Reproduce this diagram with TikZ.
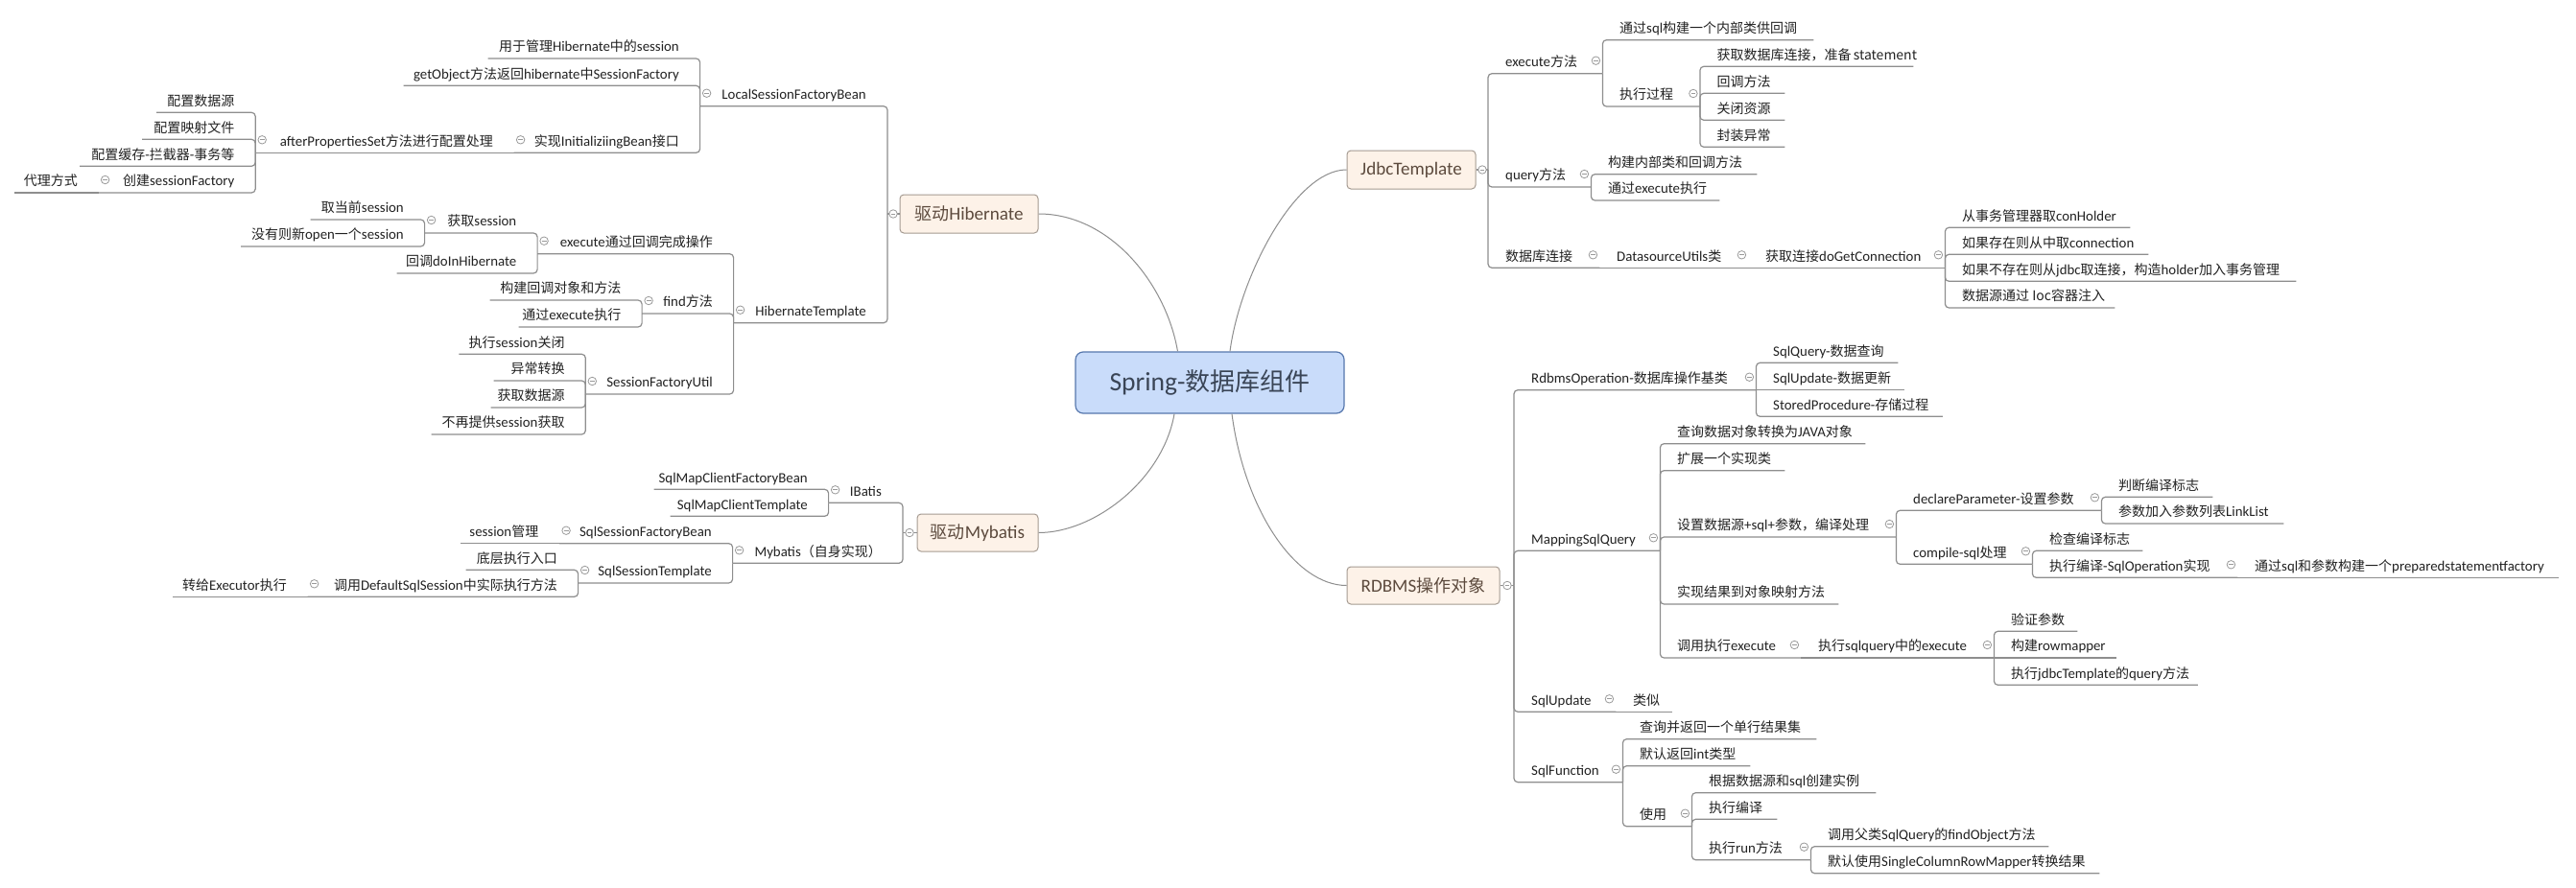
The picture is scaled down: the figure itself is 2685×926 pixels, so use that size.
\documentclass[tikz,border=0pt]{standalone}
\usepackage{fontspec}
\setmainfont{Carlito}[Scale=1.06]
\newfontfamily\cjkfont{Noto Sans CJK SC}
\usepackage{xcolor}
\usepackage{tikz}

% Latin runs in Carlito, CJK runs in Noto Sans CJK SC
\XeTeXinterchartokenstate=1
\newXeTeXintercharclass\cjkcls
\newcount\cjkc
\cjkc="2E80 \loop \XeTeXcharclass\cjkc=\cjkcls \advance\cjkc by 1 \ifnum\cjkc<"A000 \repeat
\cjkc="FF00 \loop \XeTeXcharclass\cjkc=\cjkcls \advance\cjkc by 1 \ifnum\cjkc<"FFF0 \repeat
\XeTeXinterchartoks 0 \cjkcls = {\cjkfont}
\XeTeXinterchartoks 4095 \cjkcls = {\cjkfont}
\XeTeXinterchartoks \cjkcls 0 = {\rmfamily}

\definecolor{lncol}{HTML}{8E8E8E}
\definecolor{txtcol}{HTML}{222222}
\definecolor{foldcol}{HTML}{9A9A9A}
\definecolor{boxfill}{HTML}{FDF2E8}
\definecolor{boxline}{HTML}{A59B92}
\definecolor{maintxt}{HTML}{5C4A3D}
\definecolor{rootfill}{HTML}{C9DCFA}
\definecolor{rootline}{HTML}{5677AD}
\definecolor{roottxt}{HTML}{3A4556}

\newcommand\lblfont{\fontsize{14}{16}\selectfont}
\newcommand\topfont{\fontsize{18}{20}\selectfont}
\newcommand\rootfont{\fontsize{26}{28}\selectfont}

\tikzstyle{ln}=[draw=lncol, line width=1.2pt]
\tikzstyle{rc}=[rounded corners=4pt]
\tikzstyle{crv}=[draw=lncol, line width=1pt]
\tikzstyle{tp}=[inner sep=0pt, text height=12pt, text depth=7pt, font=\lblfont, text=txtcol]
\tikzstyle{fold}=[circle, draw=foldcol, fill=white, line width=0.8pt, minimum size=8.5pt, inner sep=0pt,
  path picture={\draw[foldcol, line width=0.8pt] ([xshift=-2.4pt]path picture bounding box.center) -- ([xshift=2.4pt]path picture bounding box.center);}]
\tikzstyle{topic}=[draw=boxline, fill=boxfill, rounded corners=4pt, line width=1pt, font=\topfont, text=maintxt, inner sep=0pt]
\tikzset{rt/.style={tp, anchor=south west, execute at begin node={\hbox to #1pt\bgroup\hskip18pt\relax}, execute at end node={\hfil\egroup}}}
\tikzset{lt/.style={tp, anchor=south east, execute at begin node={\hbox to #1pt\bgroup\hfil}, execute at end node={\hskip22pt\egroup}}}

\begin{document}
\begin{tikzpicture}[x=1pt, y=-1pt]

    \useasboundingbox (0,0) rectangle (2685,926);
    \fill[white] (0,0) rectangle (2685,926);

%centre and main topics
    \node[draw=rootline, fill=rootfill, rounded corners=8pt, line width=1.2pt, minimum width=280pt, minimum height=64pt, font=\rootfont, text=roottxt] (root) at (1261,399) {Spring-数据库组件};
    \node[topic, minimum width=144pt, minimum height=40pt] (hib) at (1010,223) {驱动Hibernate};
    \node[topic, minimum width=126pt, minimum height=39pt] (myb) at (1019,555.5) {驱动Mybatis};
    \node[topic, minimum width=134pt, minimum height=40pt] (jdbc) at (1471,177) {JdbcTemplate};
    \node[topic, minimum width=159pt, minimum height=39pt] (rdbms) at (1483.5,610.5) {RDBMS操作对象};

    \draw[crv] (hib.east) .. controls +(75,0) and +(-12,-70) .. ([xshift=-33.5pt]root.north);
    \draw[crv] ([xshift=21pt]root.north) .. controls +(10,-77) and +(-54,0) .. (jdbc.west);
    \draw[crv] ([xshift=-37pt]root.south) .. controls +(-12,69) and +(58,0) .. (myb.east);
    \draw[crv] ([xshift=23pt]root.south) .. controls +(13,99) and +(-54,0) .. (rdbms.west);

%right side: JdbcTemplate
    \foreach \nm/\bx/\ex/\u/\txt in {
        jexec/1551/1670/76.7/execute方法,
        jsql/1670/1890/41.7/通过sql构建一个内部类供回调,
        jrun/1670/1771.5/111/执行过程,
        jconn/1771.5/1994/69.3/获取数据库连接，准备 statement,
        jcb/1771.5/1860/97.3/回调方法,
        jclose/1771.5/1860/125.3/关闭资源,
        jexc/1771.5/1860/153.3/封装异常,
        jquery/1551/1658/195/query方法,
        jinner/1658/1831/181.7/构建内部类和回调方法,
        jbyexec/1658/1792/209/通过execute执行,
        jdb/1551/1667/279.3/数据库连接,
        jdsu/1667/1822/279.3/DatasourceUtils类,
        jget/1822/2027/279.3/获取连接doGetConnection,
        jhold/2027/2220/237.3/从事务管理器取conHolder,
        jexist/2027/2239/265.3/如果存在则从中取connection,
        jnew/2027/2393/293.3/如果不存在则从jdbc取连接，构造holder加入事务管理,
        jioc/2027/2204/321/数据源通过 Ioc容器注入}
        {\pgfmathsetmacro\tpw{\ex-\bx}\node[rt=\tpw] (\nm) at (\bx,\u) {\txt};}

%right side: RDBMS
    \foreach \nm/\bx/\ex/\u/\txt in {
        rop/1578/1830/406.7/RdbmsOperation-数据库操作基类,
        rq/1830/1978/378.3/SqlQuery-数据查询,
        ru/1830/1985/406.7/SqlUpdate-数据更新,
        rsp/1830/2024.5/434.3/StoredProcedure-存储过程,
        rmap/1578/1730/574.3/MappingSqlQuery,
        rjava/1730/1944/462.7/查询数据对象转换为JAVA对象,
        rext/1730/1860/490.7/扩展一个实现类,
        rset/1730/1976/560/设置数据源+sql+参数，编译处理,
        rdecl/1976/2190/532.3/declareParameter-设置参数,
        rflag/2190/2306/518.3/判断编译标志,
        rlist/2190/2380/546/参数加入参数列表LinkList,
        rcomp/1976/2118/588.3/compile-sql处理,
        rchk/2118/2233/574.3/检查编译标志,
        rdo/2118/2332/602.3/执行编译-SqlOperation实现,
        rpsf/2332/2667/602.3/通过sql和参数构建一个preparedstatementfactory,
        rres/1730/1916/630/实现结果到对象映射方法,
        rcall/1730/1877/686/调用执行execute,
        rsqe/1877/2078/686/执行sqlquery中的execute,
        rval/2078/2165/658.3/验证参数,
        rrow/2078/2206/686/构建rowmapper,
        rjq/2078/2290.5/714.3/执行jdbcTemplate的query方法,
        rupd/1578/1684/742.3/SqlUpdate,
        rsim/1684/1743/742.3/类似,
        rfun/1578/1691/815.7/SqlFunction,
        rone/1691/1893/770.7/查询并返回一个单行结果集,
        rint/1691/1824/798.7/默认返回int类型,
        ruse/1691/1763/861.7/使用,
        rinst/1763/1955/826.7/根据数据源和sql创建实例,
        rcmp/1763/1852/854.3/执行编译,
        rrun/1763/1887/896.7/执行run方法,
        rfind/1887/2135/882.7/调用父类SqlQuery的findObject方法,
        rscr/1887/2188/910.7/默认使用SingleColumnRowMapper转换结果}
        {\pgfmathsetmacro\tpw{\ex-\bx}\node[rt=\tpw] (\nm) at (\bx,\u) {\txt};}

%left side: Hibernate
    \foreach \nm/\bx/\ex/\u/\txt in {
        hlsf/730/925/110.7/LocalSessionFactoryBean,
        hmgr/509/730/61/用于管理Hibernate中的session,
        hget/421/730/89.3/getObject方法返回hibernate中SessionFactory,
        hinit/536/730/159.3/实现InitializiingBean接口,
        hafter/266.6/536/159.3/afterPropertiesSet方法进行配置处理,
        hds/163.6/266.6/117.3/配置数据源,
        hmap/148.4/266.6/145.3/配置映射文件,
        hcache/83.6/266.6/173.3/配置缓存-拦截器-事务等,
        hcreate/103/266.6/201/创建sessionFactory,
        hproxy/15/103/201/代理方式,
        htpl/765/925/336.7/HibernateTemplate,
        hexec/560.5/765/264.7/execute通过回调完成操作,
        hsess/443/560.5/243/获取session,
        hcur/324/443/229/取当前session,
        hopen/251.5/443/257/没有则新open一个session,
        hdoin/414/560.5/285/回调doInHibernate,
        hfind/669.5/765/327/find方法,
        hcbo/511/669.5/313/构建回调对象和方法,
        hbyex/541/669.5/341/通过execute执行,
        hsfu/610.7/765/411/SessionFactoryUtil,
        hclose/478.7/610.7/369.3/执行session关闭,
        hconv/515/610.7/397/异常转换,
        hdsrc/512/610.7/425/获取数据源,
        hnomore/450/610.7/453/不再提供session获取}
        {\pgfmathsetmacro\tpw{\ex-\bx}\node[lt=\tpw] (\nm) at (\ex,\u) {\txt};}

%left side: Mybatis
    \foreach \nm/\bx/\ex/\u/\txt in {
        mib/864/941/524.3/IBatis,
        mfb/682/864/510.3/SqlMapClientFactoryBean,
        mct/699/864/538.3/SqlMapClientTemplate,
        mself/764/941/587.3/Mybatis（自身实现）,
        msfb/583.5/764/566.7/SqlSessionFactoryBean,
        msm/480.4/583.5/566.7/session管理,
        mst/603/764/608/SqlSessionTemplate,
        mentry/486/603/594.3/底层执行入口,
        mdef/321/603/622.3/调用DefaultSqlSession中实际执行方法,
        mexe/180/321/622.3/转给Executor执行}
        {\pgfmathsetmacro\tpw{\ex-\bx}\node[lt=\tpw] (\nm) at (\ex,\u) {\txt};}

% connectors from the main topics
    \draw[ln] (jdbc.east) -- (jdbc.east -| jexec.south west);
    \foreach \c in {jexec,jquery,jdb}
        \draw[ln,rc] (jdbc.east -| \c.south west) |- (\c.south east);
    \draw[ln] (rdbms.east) -- (rdbms.east -| rop.south west);
    \foreach \c in {rop,rmap,rupd,rfun}
        \draw[ln,rc] (rdbms.east -| \c.south west) |- (\c.south east);
    \draw[ln] (hib.west) -- (hib.west -| hlsf.south east);
    \foreach \c in {hlsf,htpl}
        \draw[ln,rc] (hib.west -| \c.south east) |- (\c.south west);
    \draw[ln] (myb.west) -- (myb.west -| mib.south east);
    \foreach \c in {mib,mself}
        \draw[ln,rc] (myb.west -| \c.south east) |- (\c.south west);

% branches
    \foreach \p/\c in {jexec/jsql, jexec/jrun, jrun/jconn, jrun/jcb, jrun/jclose, jrun/jexc,
        jquery/jinner, jquery/jbyexec, jget/jhold, jget/jexist, jget/jnew, jget/jioc,
        rop/rq, rop/rsp, rmap/rjava, rmap/rext, rmap/rset, rmap/rres, rmap/rcall,
        rset/rdecl, rset/rcomp, rdecl/rflag, rdecl/rlist, rcomp/rchk, rcomp/rdo,
        rsqe/rval, rsqe/rjq, rfun/rone, rfun/rint, rfun/ruse, ruse/rinst, ruse/rcmp,
        ruse/rrun, rrun/rfind, rrun/rscr}
        \draw[ln,rc] (\p.south east) |- (\c.south east);
    \foreach \p/\c in {jdb/jdsu, jdsu/jget, rop/ru, rdo/rpsf, rcall/rsqe, rsqe/rrow, rupd/rsim}
        \draw[ln] (\p.south east) -- (\c.south east);

    \foreach \p/\c in {hlsf/hmgr, hlsf/hget, hlsf/hinit, hafter/hds, hafter/hmap, hafter/hcache,
        hafter/hcreate, htpl/hexec, htpl/hfind, htpl/hsfu, hexec/hsess, hexec/hdoin,
        hsess/hcur, hsess/hopen, hfind/hcbo, hfind/hbyex, hsfu/hclose, hsfu/hconv,
        hsfu/hdsrc, hsfu/hnomore, mib/mfb, mib/mct, mself/msfb, mself/mst,
        mst/mentry, mst/mdef}
        \draw[ln,rc] (\p.south west) |- (\c.south west);
    \foreach \p/\c in {hinit/hafter, hcreate/hproxy, msfb/msm, mdef/mexe}
        \draw[ln] (\p.south west) -- (\c.south west);

% fold marks
    \foreach \n in {jexec,jrun,jquery,jdb,jdsu,jget,rop,rmap,rset,rdecl,rcomp,rdo,
        rcall,rsqe,rupd,rfun,ruse,rrun}
        \node[fold] (f\n) at ([shift={(-7,-13.5)}]\n.south east) {};
    \foreach \n in {hlsf,hinit,hafter,hcreate,htpl,hexec,hsess,hfind,hsfu,
        mib,mself,msfb,mst,mdef}
        \node[fold] (f\n) at ([shift={(7,-13.5)}]\n.south west) {};
    \node[fold] (fjdbc) at ([xshift=6.5pt]jdbc.east) {};
    \node[fold] (frdbms) at ([xshift=7.5pt]rdbms.east) {};
    \node[fold] (fhib) at ([xshift=-6.5pt]hib.west) {};
    \node[fold] (fmyb) at ([xshift=-7.5pt]myb.west) {};

\end{tikzpicture}
\end{document}
